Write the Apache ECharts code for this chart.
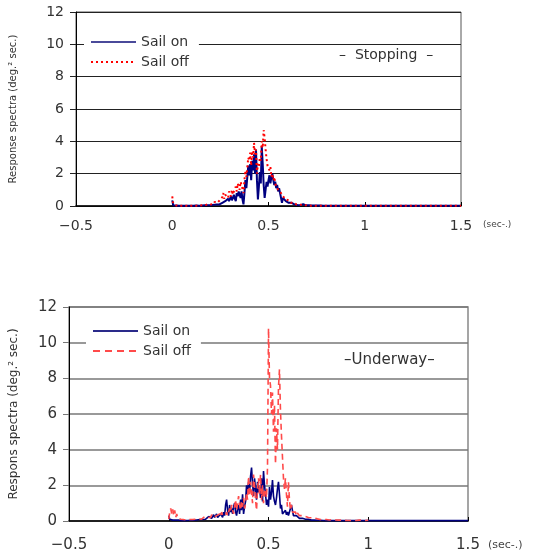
<!DOCTYPE html>
<html>
<head>
<meta charset="utf-8">
<script src="https://cdn.jsdelivr.net/npm/echarts@6/dist/echarts.min.js"></script>
<style>
  html, body { margin: 0; padding: 0; background: #fff; }
  #chart { width: 534px; height: 558px; }
</style>
</head>
<body>
<div id="chart"></div>
<script>
// sampling of the spectra: one value every 0.005 sec from 0 to 1.0
const STEP = 0.005;
const xTickLabels = ['\u22120.5', '0', '0.5', '1', '1.5'];
const yTicks = [0, 2, 4, 6, 8, 10, 12];
const legendNames = ['Sail on', 'Sail off'];

// Stopping - sail on
const stopOn = [
  0.35, 0.05, 0.02, 0.02, 0.03, 0.02, 0.02, 0.01, 0.02, 0.02,
  0.02, 0.01, 0.02, 0.02, 0.01, 0.02, 0.02, 0.02, 0.01, 0.02,
  0.02, 0.02, 0.01, 0.02, 0.02, 0.03, 0.02, 0.02, 0.02, 0.03,
  0.02, 0.03, 0.03, 0.02, 0.04, 0.03, 0.03, 0.04, 0.05, 0.04,
  0.05, 0.06, 0.04, 0.07, 0.08, 0.06, 0.1, 0.08, 0.12, 0.1,
  0.15, 0.12, 0.2, 0.15, 0.25, 0.3, 0.2, 0.35, 0.45, 0.3,
  0.4, 0.6, 0.35, 0.5, 0.7, 0.45, 0.3, 0.8, 0.6, 0.9,
  0.7, 0.5, 0.9, 0.4, 0.1, 0.8, 1.6, 1.1, 1.8, 2.5,
  1.9, 2.6, 1.6, 2.8, 2.2, 3.2, 2.0, 3.5, 1.6, 0.4,
  1.2, 2.1, 1.4, 3.7, 2.6, 1.3, 0.5, 0.6, 1.5, 1.2,
  1.6, 1.9, 1.4, 1.8, 2.0, 1.6, 1.3, 1.5, 1.1, 1.3,
  0.9, 1.1, 0.8, 0.9, 0.2, 0.5, 0.4, 0.6, 0.3, 0.35,
  0.3, 0.2, 0.25, 0.15, 0.2, 0.1, 0.15, 0.1, 0.08, 0.12,
  0.06, 0.08, 0.15, 0.05, 0.06, 0.04, 0.12, 0.05, 0.15, 0.04,
  0.05, 0.03, 0.04, 0.03, 0.02, 0.03, 0.04, 0.02, 0.03, 0.02,
  0.02, 0.03, 0.02, 0.02, 0.03, 0.02, 0.02, 0.02, 0.03, 0.02,
  0.02, 0.02, 0.02, 0.01, 0.02, 0.02, 0.02, 0.02, 0.02, 0.01,
  0.02, 0.02, 0.01, 0.02, 0.02, 0.01, 0.02, 0.02, 0.01, 0.02,
  0.01, 0.02, 0.01, 0.01, 0.02, 0.01, 0.02, 0.01, 0.01, 0.02,
  0.01, 0.01, 0.02, 0.01, 0.01, 0.01, 0.02, 0.01, 0.01, 0.01, 0.01
];
const stopOnEnd = 0.01;

// Stopping - sail off
const stopOff = [
  0.6, 0.15, 0.1, 0.05, 0.03, 0.02, 0.02, 0.02, 0.02, 0.02,
  0.02, 0.02, 0.01, 0.02, 0.02, 0.02, 0.01, 0.02, 0.02, 0.02,
  0.02, 0.03, 0.02, 0.02, 0.03, 0.02, 0.03, 0.02, 0.03, 0.03,
  0.04, 0.05, 0.03, 0.06, 0.05, 0.08, 0.06, 0.1, 0.12, 0.08,
  0.1, 0.15, 0.2, 0.12, 0.25, 0.18, 0.35, 0.2, 0.3, 0.25,
  0.4, 0.3, 0.55, 0.8, 0.45, 0.7, 0.6, 0.8, 0.5, 0.9,
  0.8, 0.6, 1.0, 0.7, 0.9, 0.8, 1.2, 0.9, 1.4, 1.2,
  1.0, 1.5, 1.3, 1.4, 0.8, 1.6, 2.2, 1.8, 2.4, 3.0,
  2.8, 3.3, 2.5, 3.4, 3.0, 3.9, 3.2, 3.5, 2.0, 2.6,
  2.4, 3.0, 2.8, 4.0, 3.6, 4.7, 4.2, 3.5, 2.9, 2.5,
  2.6, 2.2, 2.4, 1.8, 2.0, 1.6, 1.8, 1.4, 1.2, 1.3,
  1.0, 0.9, 1.1, 0.8, 0.7, 0.6, 0.5, 0.6, 0.4, 0.45,
  0.4, 0.35, 0.3, 0.2, 0.25, 0.15, 0.2, 0.12, 0.15, 0.1,
  0.1, 0.08, 0.1, 0.06, 0.08, 0.05, 0.06, 0.05, 0.04, 0.05,
  0.03, 0.04, 0.03, 0.03, 0.02, 0.03, 0.03, 0.02, 0.03, 0.02,
  0.02, 0.02, 0.03, 0.02, 0.02, 0.02, 0.02, 0.01, 0.02, 0.02,
  0.02, 0.01, 0.02, 0.02, 0.01, 0.02, 0.01, 0.02, 0.01, 0.01,
  0.02, 0.01, 0.01, 0.02, 0.01, 0.01, 0.01, 0.02, 0.01, 0.01,
  0.01, 0.01, 0.02, 0.01, 0.01, 0.01, 0.01, 0.01, 0.02, 0.01,
  0.01, 0.01, 0.01, 0.01, 0.01, 0.01, 0.01, 0.01, 0.01, 0.01, 0.01
];
const stopOffEnd = 0.01;

// Underway - sail on
const wayOn = [
  0.3, 0.1, 0.05, 0.1, 0.05, 0.08, 0.03, 0.05, 0.04, 0.03,
  0.05, 0.03, 0.04, 0.02, 0.03, 0.03, 0.02, 0.03, 0.02, 0.03,
  0.02, 0.03, 0.04, 0.02, 0.03, 0.05, 0.03, 0.04, 0.06, 0.04,
  0.05, 0.08, 0.06, 0.1, 0.08, 0.12, 0.15, 0.1, 0.2, 0.15,
  0.25, 0.2, 0.3, 0.15, 0.25, 0.35, 0.2, 0.3, 0.4, 0.2,
  0.3, 0.25, 0.4, 0.3, 0.2, 0.5, 0.3, 0.9, 1.2, 0.6,
  0.3, 0.9, 0.5, 0.7, 0.4, 0.8, 1.0, 0.5, 0.3, 0.7,
  0.9, 0.4, 1.2, 0.6, 1.5, 0.4, 0.8, 1.1, 2.0, 1.5,
  2.2, 1.6, 2.5, 3.0, 2.1, 1.4, 2.4, 1.8, 1.2, 2.2,
  1.6, 1.9, 1.3, 2.4, 1.1, 2.8, 2.0, 1.5, 0.9, 1.2,
  0.8, 1.9, 1.2, 1.6, 2.3, 1.4, 1.1, 0.9, 1.3, 1.8,
  2.2, 1.5, 0.7, 0.9, 0.4, 0.5, 0.3, 0.6, 0.35, 0.5,
  0.3, 0.5, 0.4, 0.9, 0.6, 0.3, 0.25, 0.2, 0.3, 0.2,
  0.25, 0.15, 0.2, 0.1, 0.15, 0.12, 0.08, 0.1, 0.12, 0.08,
  0.1, 0.06, 0.08, 0.05, 0.07, 0.05, 0.06, 0.04, 0.05, 0.04,
  0.05, 0.03, 0.04, 0.03, 0.04, 0.03, 0.03, 0.04, 0.02, 0.03,
  0.02, 0.03, 0.02, 0.03, 0.02, 0.02, 0.03, 0.02, 0.03, 0.02,
  0.02, 0.03, 0.02, 0.02, 0.03, 0.02, 0.02, 0.02, 0.03, 0.02,
  0.02, 0.02, 0.03, 0.02, 0.02, 0.02, 0.02, 0.03, 0.02, 0.02,
  0.02, 0.02, 0.02, 0.03, 0.02, 0.02, 0.02, 0.02, 0.02, 0.02, 0.02
];
const wayOnEnd = 0.02;

// Underway - sail off (ends at 1.0 sec)
const wayOff = [
  0.1, 0.5, 0.7, 0.4, 0.65, 0.3, 0.6, 0.2, 0.4, 0.15,
  0.2, 0.15, 0.1, 0.12, 0.1, 0.08, 0.1, 0.09, 0.07, 0.08,
  0.07, 0.08, 0.06, 0.1, 0.08, 0.12, 0.07, 0.1, 0.15, 0.1,
  0.12, 0.2, 0.15, 0.1, 0.2, 0.15, 0.25, 0.2, 0.15, 0.2,
  0.25, 0.3, 0.2, 0.35, 0.25, 0.2, 0.3, 0.25, 0.3, 0.2,
  0.3, 0.4, 0.25, 0.5, 0.3, 0.4, 0.25, 0.35, 0.5, 0.3,
  0.4, 0.7, 0.5, 0.9, 0.6, 0.4, 0.8, 1.2, 0.6, 1.0,
  1.4, 0.9, 0.6, 1.1, 0.8, 1.3, 0.7, 1.0, 1.6, 1.2,
  2.5, 1.4, 2.2, 1.6, 1.0, 2.6, 2.0, 1.2, 0.6, 1.8,
  2.4, 1.5, 2.6, 1.2, 2.0, 1.0, 1.6, 1.8, 1.3, 3.0,
  10.8, 8.0, 7.6, 6.0, 7.2, 5.0, 6.5, 3.2, 5.2, 4.0,
  7.5, 8.5, 6.2, 4.8, 3.6, 2.4, 1.8, 2.4, 1.5, 0.8,
  2.2, 1.2, 0.6, 0.9, 0.5, 0.6, 0.4, 0.5, 0.3, 0.45,
  0.35, 0.3, 0.4, 0.25, 0.3, 0.2, 0.3, 0.25, 0.2, 0.25,
  0.2, 0.15, 0.2, 0.18, 0.15, 0.12, 0.18, 0.15, 0.1, 0.12,
  0.1, 0.12, 0.08, 0.1, 0.12, 0.08, 0.1, 0.07, 0.08, 0.06,
  0.07, 0.06, 0.08, 0.05, 0.07, 0.06, 0.05, 0.06, 0.05, 0.04,
  0.05, 0.06, 0.04, 0.05, 0.04, 0.06, 0.04, 0.05, 0.04, 0.03,
  0.04, 0.05, 0.03, 0.04, 0.06, 0.03, 0.04, 0.05, 0.03, 0.04,
  0.03, 0.05, 0.04, 0.03, 0.06, 0.04, 0.05, 0.03, 0.04, 0.06, 0.04
];

function toPairs(values, endValue) {
  const pts = values.map((v, i) => [i * STEP, v]);
  if (endValue !== undefined) pts.push([1.5, endValue]);
  return pts;
}

const FONT = 'DejaVu Sans';
const chart = echarts.init(document.getElementById('chart'), null, { renderer: 'canvas' });

function xAxisFor(gridIndex, margin, size) {
  return {
    gridIndex, type: 'value', min: -0.5, max: 1.5, interval: 0.5,
    axisLine: { onZero: false, lineStyle: { color: '#000', width: 1.5 } },
    axisTick: { inside: true, length: 4, lineStyle: { color: '#000' } },
    splitLine: { show: false },
    axisLabel: {
      margin, fontSize: size, fontFamily: FONT, color: '#333',
      formatter: v => xTickLabels[Math.round((v + 0.5) / 0.5)]
    }
  };
}

function yAxisFor(gridIndex, name, nameSize, nameGap, size, gridColor, gridWidth) {
  return {
    gridIndex, type: 'value', min: 0, max: 12, interval: 2,
    name, nameLocation: 'middle', nameGap,
    nameTextStyle: { fontSize: nameSize, fontFamily: FONT, color: '#333' },
    axisLine: { show: true, onZero: false, lineStyle: { color: '#000', width: 1 } },
    axisTick: { show: true, length: 6, lineStyle: { color: gridColor } },
    splitLine: { lineStyle: { color: gridColor, width: gridWidth } },
    axisLabel: {
      margin: 12, fontSize: size, fontFamily: FONT, color: '#333',
      formatter: v => yTicks.includes(v) ? String(v) : ''
    }
  };
}

// legend entries: plain line sample, the marker symbol hidden
const hiddenMark = { color: 'rgba(0,0,0,0)', borderWidth: 0 };
function legendFor(left, top, onStyle, offStyle) {
  return {
    orient: 'vertical', left, top,
    itemWidth: 45, itemHeight: 12, itemGap: 6,
    backgroundColor: '#fff', padding: [3, 10, 3, 6],
    textStyle: { fontSize: 14, fontFamily: FONT, color: '#333' },
    data: [
      { name: legendNames[0], itemStyle: hiddenMark, lineStyle: onStyle },
      { name: legendNames[1], itemStyle: hiddenMark, lineStyle: offStyle }
    ]
  };
}

chart.setOption({
  animation: false,
  backgroundColor: '#fff',
  grid: [
    { left: 72, top: 12, width: 389, height: 194, show: true, borderColor: '#555', borderWidth: 1 },
    { left: 69, top: 307, width: 399, height: 214, show: true, borderColor: '#888', borderWidth: 1.5 }
  ],
  xAxis: [xAxisFor(0, 13, 14), xAxisFor(1, 17, 15)],
  yAxis: [
    yAxisFor(0, 'Response spectra (deg.\u00b2 sec.)', 10, 58, 14, '#222', 1),
    yAxisFor(1, 'Respons spectra (deg.\u00b2 sec.)', 12, 49, 15, '#777', 1.6)
  ],
  legend: [
    legendFor(84, 32, { color: '#4a4a9a', width: 2, type: 'solid' }, { type: [2, 3], width: 2, color: '#ff0000' }),
    legendFor(86, 321, { color: '#2a2a8a', width: 2, type: 'solid' }, { type: [7, 5], width: 2, color: '#ff4a4a' })
  ],
  graphic: [
    { type: 'text', left: 483, top: 220, style: { text: '(sec-.)', fontSize: 9, fontFamily: FONT, fill: '#444' } },
    { type: 'text', left: 488, top: 540, style: { text: '(sec-.)', fontSize: 11, fontFamily: FONT, fill: '#444' } },
    { type: 'text', left: 339, top: 48, style: { text: '\u2013  Stopping  \u2013', fontSize: 14, fontFamily: FONT, fill: '#333' } },
    { type: 'text', left: 344, top: 353, style: { text: '\u2013Underway\u2013', fontSize: 15, fontFamily: FONT, fill: '#333' } }
  ],
  series: [
    {
      name: 'Sail on', type: 'line', xAxisIndex: 0, yAxisIndex: 0, symbol: 'none',
      data: toPairs(stopOn, stopOnEnd),
      lineStyle: { color: '#000080', width: 2 }, itemStyle: { color: '#000080' }
    },
    {
      name: 'Sail off', type: 'line', xAxisIndex: 0, yAxisIndex: 0, symbol: 'none',
      data: toPairs(stopOff, stopOffEnd),
      lineStyle: { color: '#ff0000', width: 2, type: [2, 3] }, itemStyle: { color: '#ff0000' }
    },
    {
      name: 'Sail on', type: 'line', xAxisIndex: 1, yAxisIndex: 1, symbol: 'none',
      data: toPairs(wayOn, wayOnEnd),
      lineStyle: { color: '#00007f', width: 1.6 }, itemStyle: { color: '#00007f' }
    },
    {
      name: 'Sail off', type: 'line', xAxisIndex: 1, yAxisIndex: 1, symbol: 'none',
      data: toPairs(wayOff),
      lineStyle: { color: '#ff4a4a', width: 1.6, type: [6, 4] }, itemStyle: { color: '#ff4a4a' }
    }
  ]
});
</script>
</body>
</html>
